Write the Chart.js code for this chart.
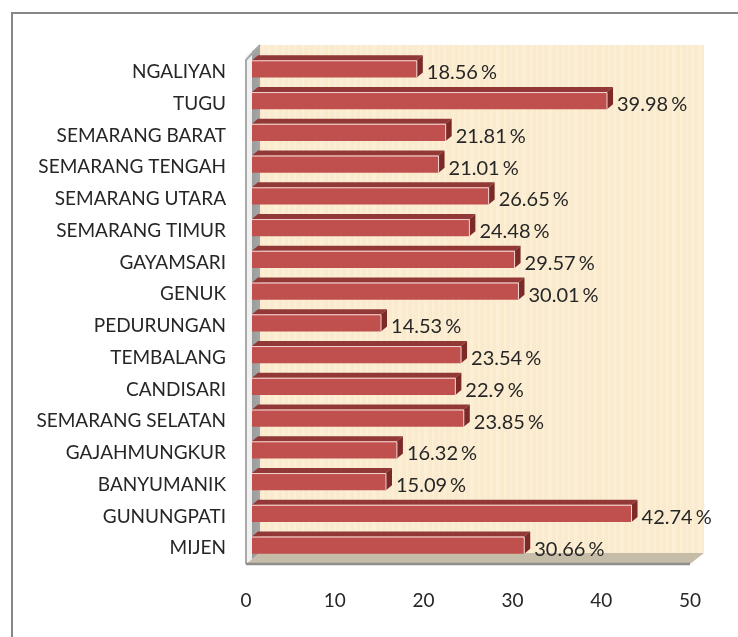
<!DOCTYPE html>
<html>
<head>
<meta charset="utf-8">
<script src="https://cdnjs.cloudflare.com/ajax/libs/Chart.js/4.4.1/chart.umd.js"></script>
<style>
html,body{margin:0;padding:0;background:#fff;}
#wrap{width:738px;height:637px;position:relative;}
</style>
</head>
<body>
<div id="wrap"><canvas id="c" width="738" height="637"></canvas></div>
<script>
const categories=['NGALIYAN','TUGU','SEMARANG BARAT','SEMARANG TENGAH','SEMARANG UTARA','SEMARANG TIMUR','GAYAMSARI','GENUK','PEDURUNGAN','TEMBALANG','CANDISARI','SEMARANG SELATAN','GAJAHMUNGKUR','BANYUMANIK','GUNUNGPATI','MIJEN'];
const values=[18.56,39.98,21.81,21.01,26.65,24.48,29.57,30.01,14.53,23.54,22.9,23.85,16.32,15.09,42.74,30.66];
const xMin=0,xMax=50,xStep=10;

const FONT='Lato, "DejaVu Sans", sans-serif';
const WALL={dx:14,dy:-11};   // depth of walls/floor
const BAR={dx:6,dy:-5};      // depth of each bar
const SHIFT={dx:6,dy:-3};    // bar front face set back from front plane

// parchment-like texture for back wall
function makeTexture(ctx){
  const c=document.createElement('canvas');c.width=150;c.height=60;
  const g=c.getContext('2d');
  g.fillStyle='#FBECD0';g.fillRect(0,0,150,60);
  for(let i=0;i<150;i+=2){
    const a=((i*37)%13)/13;
    g.fillStyle=a>0.55?'rgba(255,248,232,'+(a*0.3)+')':'rgba(244,226,192,'+((1-a)*0.15)+')';
    g.fillRect(i,0,2,60);
  }
  return ctx.createPattern(c,'repeat');
}

const scene={
  id:'scene',
  beforeDraw(chart){
    const ctx=chart.ctx;
    ctx.save();
    ctx.fillStyle='#fff';ctx.fillRect(0,0,chart.width,chart.height);
    ctx.strokeStyle='#878787';ctx.lineWidth=2;
    ctx.strokeRect(12,13,900,900);
    ctx.restore();
  },
  beforeDatasetsDraw(chart){
    const ctx=chart.ctx,a=chart.chartArea;
    const L=a.left,R=a.right,T=a.top,B=a.bottom;
    ctx.save();
    // back wall
    ctx.fillStyle=makeTexture(ctx);
    ctx.fillRect(L+WALL.dx,T+WALL.dy,R-L,B-T);
    // left wall
    const lg=ctx.createLinearGradient(L,0,L+WALL.dx,0);
    lg.addColorStop(0,'#f4f4f4');lg.addColorStop(0.42,'#eeeeee');lg.addColorStop(0.45,'#9c9c9c');lg.addColorStop(1,'#a6a6a6');
    ctx.fillStyle=lg;
    ctx.beginPath();
    ctx.moveTo(L,T);ctx.lineTo(L+WALL.dx,T+WALL.dy);ctx.lineTo(L+WALL.dx,B+WALL.dy);ctx.lineTo(L,B);ctx.closePath();
    ctx.fill();
    ctx.strokeStyle='#a9a9a9';ctx.lineWidth=2;
    ctx.beginPath();ctx.moveTo(L+WALL.dx,T+WALL.dy);ctx.lineTo(L,T+4);ctx.lineTo(L,B);ctx.stroke();
    // floor
    ctx.fillStyle='#C6BDA9';
    ctx.beginPath();
    ctx.moveTo(L,B);ctx.lineTo(R,B);ctx.lineTo(R+WALL.dx,B+WALL.dy);ctx.lineTo(L+WALL.dx,B+WALL.dy);ctx.closePath();
    ctx.fill();
    ctx.strokeStyle='#8e8e8e';ctx.lineWidth=2.5;
    ctx.beginPath();ctx.moveTo(L,B);ctx.lineTo(R,B);ctx.stroke();
    ctx.restore();
    ctx.save();
    ctx.translate(SHIFT.dx,SHIFT.dy);
  },
  afterDatasetsDraw(chart){
    const ctx=chart.ctx;
    const meta=chart.getDatasetMeta(0);
    meta.data.forEach(bar=>{
      const p=bar.getProps(['x','y','base','height'],true);
      const t=p.y-p.height/2,b=p.y+p.height/2;
      // top face
      ctx.fillStyle='#923836';
      ctx.beginPath();
      ctx.moveTo(p.base,t);ctx.lineTo(p.x,t);ctx.lineTo(p.x+BAR.dx,t+BAR.dy);ctx.lineTo(p.base+BAR.dx,t+BAR.dy);ctx.closePath();
      ctx.fill();
      // side face
      ctx.fillStyle='#7B2A28';
      ctx.beginPath();
      ctx.moveTo(p.x,t);ctx.lineTo(p.x+BAR.dx,t+BAR.dy);ctx.lineTo(p.x+BAR.dx,b+BAR.dy);ctx.lineTo(p.x,b);ctx.closePath();
      ctx.fill();
      // highlight edges
      ctx.strokeStyle='rgba(255,235,235,0.85)';ctx.lineWidth=1;
      ctx.beginPath();ctx.moveTo(p.base,t+0.5);ctx.lineTo(p.x,t+0.5);ctx.lineTo(p.x,b);ctx.stroke();
    });
    ctx.restore();
    // value labels
    const xs=chart.scales.x,ys=chart.scales.y;
    ctx.save();
    ctx.font='20px '+FONT;ctx.fillStyle='#262626';ctx.textBaseline='middle';ctx.textAlign='left';
    values.forEach((v,i)=>{
      const x=xs.getPixelForValue(v)+16,y=ys.getPixelForValue(i)+1;
      const s=String(v);
      ctx.fillText(s,x,y);
      ctx.fillText('%',x+ctx.measureText(s).width+3,y);
    });
    ctx.restore();
  }
};

new Chart(document.getElementById('c'),{
  type:'bar',
  data:{labels:categories,datasets:[{data:values,backgroundColor:'#C0504D',borderWidth:0,barPercentage:0.54,categoryPercentage:1}]},
  options:{
    indexAxis:'y',responsive:false,animation:false,devicePixelRatio:1,
    layout:{padding:{top:56,right:48,left:0,bottom:0}},
    plugins:{legend:{display:false},tooltip:{enabled:false}},
    scales:{
      x:{min:xMin,max:xMax,
        ticks:{stepSize:xStep,padding:25,color:'#262626',font:{family:FONT,size:19}},
        grid:{display:false,drawTicks:false},border:{display:false},
        afterFit:s=>{s.height=73;}},
      y:{ticks:{padding:20,color:'#262626',font:{family:FONT,size:19},autoSkip:false},
        grid:{display:false,drawTicks:false},border:{display:false},
        afterFit:s=>{s.width=246;}}
    }
  },
  plugins:[scene]
});
</script>
</body>
</html>
